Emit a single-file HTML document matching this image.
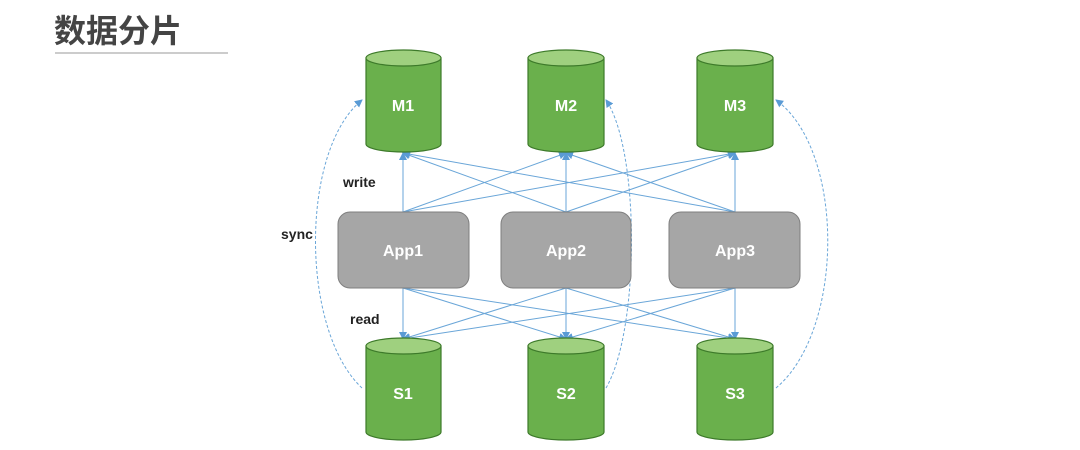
<!DOCTYPE html>
<html><head><meta charset="utf-8"><style>
body{margin:0;background:#fff;width:1080px;height:445px;overflow:hidden;font-family:"Liberation Sans","Noto Sans CJK SC",sans-serif}
</style></head><body>
<svg width="1080" height="445" viewBox="0 0 1080 445" xmlns="http://www.w3.org/2000/svg">
<defs>
<marker id="a" markerWidth="8" markerHeight="8" refX="7" refY="4" orient="auto" markerUnits="userSpaceOnUse"><path d="M0,0 L8,4 L0,8 z" fill="#5a9bd5"/></marker>
</defs>
<text x="54" y="42" font-family="'Noto Sans CJK SC',sans-serif" font-weight="bold" font-size="32" fill="#444">数据分片</text>
<line x1="55" y1="53" x2="228" y2="53" stroke="#ccc" stroke-width="2"/>
<g stroke="#6aa6d8" stroke-width="1" fill="none" marker-end="url(#a)">
<line x1="403" y1="212" x2="403" y2="153"/><line x1="403" y1="212" x2="566" y2="153"/><line x1="403" y1="212" x2="735" y2="153"/>
<line x1="566" y1="212" x2="403" y2="153"/><line x1="566" y1="212" x2="566" y2="153"/><line x1="566" y1="212" x2="735" y2="153"/>
<line x1="735" y1="212" x2="403" y2="153"/><line x1="735" y1="212" x2="566" y2="153"/><line x1="735" y1="212" x2="735" y2="153"/>
<line x1="403" y1="288" x2="403" y2="339"/><line x1="403" y1="288" x2="566" y2="339"/><line x1="403" y1="288" x2="735" y2="339"/>
<line x1="566" y1="288" x2="403" y2="339"/><line x1="566" y1="288" x2="566" y2="339"/><line x1="566" y1="288" x2="735" y2="339"/>
<line x1="735" y1="288" x2="403" y2="339"/><line x1="735" y1="288" x2="566" y2="339"/><line x1="735" y1="288" x2="735" y2="339"/>
</g>
<g stroke="#6aa6d8" stroke-width="1" fill="none" stroke-dasharray="3,2" marker-end="url(#a)">
<path d="M362,388 C300,330 300,150 362,100"/>
<path d="M606,388 C640,330 640,150 606,100"/>
<path d="M776,388 C845,330 845,150 776,100"/>
</g>
<g font-weight="bold" font-size="14" fill="#222">
<text x="343" y="187">write</text><text x="281" y="239">sync</text><text x="350" y="324">read</text>
</g>
<g stroke="#3d7a2a" stroke-width="1.2">
<path d="M366,58 V144 A37.5,8 0 0 0 441,144 V58 Z" fill="#6ab04c"/><ellipse cx="403.5" cy="58" rx="37.5" ry="8" fill="#9fd07f"/>
<path d="M528,58 V144 A38,8 0 0 0 604,144 V58 Z" fill="#6ab04c"/><ellipse cx="566" cy="58" rx="38" ry="8" fill="#9fd07f"/>
<path d="M697,58 V144 A38,8 0 0 0 773,144 V58 Z" fill="#6ab04c"/><ellipse cx="735" cy="58" rx="38" ry="8" fill="#9fd07f"/>
<path d="M366,346 V432 A37.5,8 0 0 0 441,432 V346 Z" fill="#6ab04c"/><ellipse cx="403.5" cy="346" rx="37.5" ry="8" fill="#9fd07f"/>
<path d="M528,346 V432 A38,8 0 0 0 604,432 V346 Z" fill="#6ab04c"/><ellipse cx="566" cy="346" rx="38" ry="8" fill="#9fd07f"/>
<path d="M697,346 V432 A38,8 0 0 0 773,432 V346 Z" fill="#6ab04c"/><ellipse cx="735" cy="346" rx="38" ry="8" fill="#9fd07f"/>
</g>
<g fill="#a6a6a6" stroke="#7f7f7f" stroke-width="1">
<rect x="338" y="212" width="131" height="76" rx="12"/>
<rect x="501" y="212" width="130" height="76" rx="12"/>
<rect x="669" y="212" width="131" height="76" rx="12"/>
</g>
<g fill="#fff" font-weight="bold" font-size="16" text-anchor="middle">
<text x="403" y="111">M1</text><text x="566" y="111">M2</text><text x="735" y="111">M3</text>
<text x="403" y="256">App1</text><text x="566" y="256">App2</text><text x="735" y="256">App3</text>
<text x="403" y="399">S1</text><text x="566" y="399">S2</text><text x="735" y="399">S3</text>
</g>
</svg>
</body></html>
